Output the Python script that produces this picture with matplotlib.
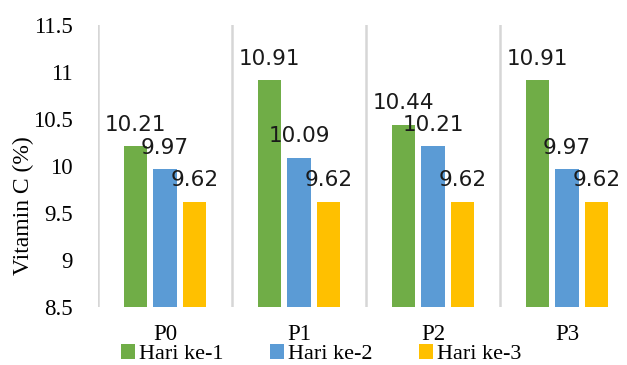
import numpy as np
import matplotlib.pyplot as plt

categories = ['P0', 'P1', 'P2', 'P3']
series = ['Hari ke-1', 'Hari ke-2', 'Hari ke-3']
hari1 = [10.21, 10.91, 10.44, 10.91]
hari2 = [9.97, 10.09, 10.21, 9.97]
hari3 = [9.62, 9.62, 9.62, 9.62]
colors = ['#70AD47', '#5B9BD5', '#FFC000']
yticks = [8.5, 9, 9.5, 10, 10.5, 11, 11.5]

serif = 'Liberation Serif'

fig = plt.figure(figsize=(6.27, 3.65), dpi=100)
# axes area: left edge 98px, bottom 307px, top 25px; 4 categories, 134px each
ax = fig.add_axes([98/627, 1-307/365, 536/627, 282/365])

x = np.arange(len(categories))
offset = 0.22
width = 0.172
for k, (vals, c, name) in enumerate(zip([hari1, hari2, hari3], colors, series)):
    xs = x + (k-1)*offset
    ax.bar(xs, np.array(vals) - 8.5, width, bottom=8.5, color=c, label=name, zorder=2)
    for xi, v in zip(xs, vals):
        ax.annotate('%g' % v, (xi, v), xytext=(0, 11), textcoords='offset points',
                    ha='center', va='baseline', fontsize=15.5, family='DejaVu Sans',
                    color='#1a1a1a', zorder=3)

ax.set_xlim(-0.5, 3.5)
ax.set_ylim(8.5, 11.5)
ax.set_yticks(yticks)
ax.set_yticklabels(['%g' % t for t in yticks], family=serif, fontsize=16.5)
ax.set_xticks(x)
ax.set_xticklabels(categories, family=serif, fontsize=16.5)
ax.set_xticks(np.arange(-0.5, 3.6, 1), minor=True)
ax.tick_params(axis='both', which='both', length=0)
ax.tick_params(axis='y', pad=18)
ax.tick_params(axis='x', pad=12)
ax.grid(axis='x', which='minor', color='#D6D6D6', linewidth=1.8, zorder=0)
ax.grid(axis='x', which='major', visible=False)
for s in ax.spines.values():
    s.set_visible(False)

ax.set_ylabel('Vitamin C (%)', family=serif, fontsize=17)
ax.yaxis.set_label_coords(-0.12, 0.36)

fig.legend(loc='center', bbox_to_anchor=(0.512, 0.03), ncol=3, frameon=False,
           prop={'family': serif, 'size': 16}, handlelength=0.65, handleheight=0.65,
           handletextpad=0.15, columnspacing=2.1, borderaxespad=0)

fig.savefig('out.png', dpi=100)
